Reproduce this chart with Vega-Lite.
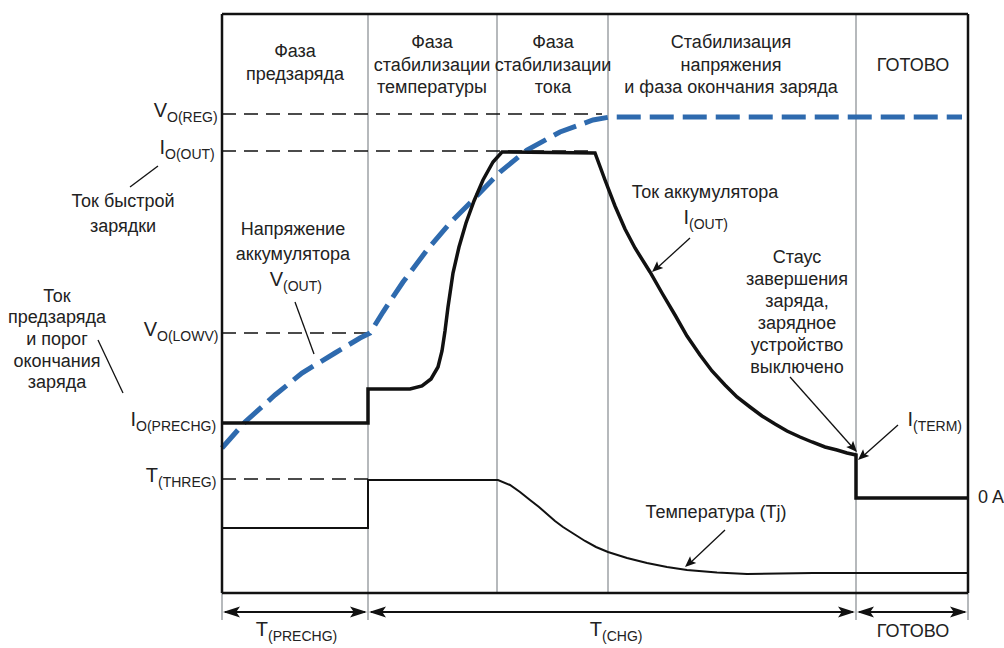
{
  "$schema": "https://vega.github.io/schema/vega-lite/v6.json",
  "width": 1004,
  "height": 648,
  "padding": 0,
  "autosize": {"type": "none"},
  "background": "white",
  "config": {"view": {"stroke": null}, "text": {"font": "Liberation Sans, Arial, sans-serif", "color": "#222"}},
  "datasets": {
    "grid": [
      {"t": 14.6, "v": -2.7, "t2": 14.6, "v2": 57.9},
      {"t": 27.5, "v": 0, "t2": 27.5, "v2": 57.9},
      {"t": 38.6, "v": 0, "t2": 38.6, "v2": 57.9},
      {"t": 63.4, "v": -2.7, "t2": 63.4, "v2": 57.9},
      {"t": 0, "v": -2.7, "t2": 0, "v2": 0},
      {"t": 74.6, "v": -2.7, "t2": 74.6, "v2": 0}
    ],
    "ref": [
      {"t": 0, "v": 47.9, "t2": 38.0, "v2": 47.9},
      {"t": 0, "v": 44.2, "t2": 37.2, "v2": 44.2},
      {"t": 0, "v": 26.0, "t2": 14.6, "v2": 26.0},
      {"t": 0, "v": 11.4, "t2": 14.6, "v2": 11.4}
    ],
    "frame": [
      {"t": 0, "v": 0, "t2": 0, "v2": 57.9},
      {"t": 0, "v": 57.9, "t2": 74.6, "v2": 57.9},
      {"t": 74.6, "v": 0, "t2": 74.6, "v2": 57.9},
      {"t": 0, "v": 0, "t2": 74.6, "v2": 0}
    ],
    "pointers": [
      {"t": -9.2, "v": 40.6, "t2": -6.4, "v2": 42.7},
      {"t": -12.4, "v": 25.3, "t2": -9.9, "v2": 20.0},
      {"t": 7.3, "v": 29.1, "t2": 9.2, "v2": 23.9},
      {"t": 46.8, "v": 35.5, "t2": 43.4, "v2": 32.4},
      {"t": 56.8, "v": 21.6, "t2": 63.2, "v2": 14.4},
      {"t": 67.6, "v": 16.8, "t2": 64.0, "v2": 13.6},
      {"t": 50.3, "v": 6.3, "t2": 46.7, "v2": 2.9}
    ],
    "dims": [
      {"t": 0.3, "v": -1.9, "t2": 14.3, "v2": -1.9},
      {"t": 14.9, "v": -1.9, "t2": 63.1, "v2": -1.9},
      {"t": 63.7, "v": -1.9, "t2": 74.3, "v2": -1.9}
    ],
    "headsRight": [
      {"t": 14.5, "v": -1.9},
      {"t": 63.3, "v": -1.9},
      {"t": 74.5, "v": -1.9}
    ],
    "headsLeft": [
      {"t": 0.1, "v": -1.9},
      {"t": 14.7, "v": -1.9},
      {"t": 63.5, "v": -1.9}
    ],
    "headsDownLeft": [
      {"t": 43.0, "v": 32.1},
      {"t": 63.6, "v": 13.3},
      {"t": 46.3, "v": 2.6}
    ],
    "headsDownRight": [
      {"t": 63.5, "v": 14.1}
    ],
    "voltage": [
      {"t": 0, "v": 14.5}, {"t": 2.3, "v": 17.1}, {"t": 5.3, "v": 19.8}, {"t": 8.0, "v": 22.0},
      {"t": 11.3, "v": 24.0}, {"t": 13.8, "v": 25.5}, {"t": 14.8, "v": 26.0}, {"t": 16.1, "v": 28.1},
      {"t": 18.1, "v": 31.1}, {"t": 20.5, "v": 34.3}, {"t": 22.8, "v": 37.0}, {"t": 24.8, "v": 39.0},
      {"t": 27.8, "v": 42.1}, {"t": 30.5, "v": 44.3}, {"t": 33.8, "v": 46.1}, {"t": 37.1, "v": 47.3},
      {"t": 38.8, "v": 47.6}, {"t": 74.0, "v": 47.6}
    ],
    "current": [
      {"t": 0, "v": 17.0}, {"t": 14.6, "v": 17.0}, {"t": 14.6, "v": 20.4}, {"t": 18.8, "v": 20.4},
      {"t": 20.0, "v": 20.7}, {"t": 20.9, "v": 21.4}, {"t": 21.6, "v": 22.6}, {"t": 22.0, "v": 24.2},
      {"t": 22.3, "v": 26.2}, {"t": 22.6, "v": 28.6}, {"t": 23.1, "v": 32.0}, {"t": 23.7, "v": 34.6},
      {"t": 24.4, "v": 37.0}, {"t": 25.2, "v": 39.2}, {"t": 26.1, "v": 41.3}, {"t": 27.1, "v": 43.1},
      {"t": 28.0, "v": 44.1}, {"t": 37.3, "v": 44.0}, {"t": 38.3, "v": 41.3}, {"t": 39.3, "v": 38.7},
      {"t": 40.3, "v": 36.4}, {"t": 41.3, "v": 34.5}, {"t": 42.8, "v": 32.1}, {"t": 44.0, "v": 30.0},
      {"t": 45.3, "v": 27.8}, {"t": 46.5, "v": 25.7}, {"t": 47.8, "v": 23.8}, {"t": 49.0, "v": 22.2},
      {"t": 50.3, "v": 20.8}, {"t": 51.5, "v": 19.6}, {"t": 52.8, "v": 18.6}, {"t": 54.0, "v": 17.7},
      {"t": 55.3, "v": 16.9}, {"t": 56.5, "v": 16.2}, {"t": 57.8, "v": 15.6}, {"t": 59.0, "v": 15.1},
      {"t": 60.3, "v": 14.6}, {"t": 61.5, "v": 14.3}, {"t": 62.5, "v": 14.0}, {"t": 63.4, "v": 13.8},
      {"t": 63.4, "v": 9.5}, {"t": 74.6, "v": 9.5}
    ],
    "temperature": [
      {"t": 0, "v": 6.5}, {"t": 14.6, "v": 6.5}, {"t": 14.6, "v": 11.3}, {"t": 27.6, "v": 11.3},
      {"t": 28.8, "v": 10.8}, {"t": 29.8, "v": 10.1}, {"t": 30.8, "v": 9.3}, {"t": 31.7, "v": 8.6},
      {"t": 32.5, "v": 7.9}, {"t": 33.3, "v": 7.2}, {"t": 34.1, "v": 6.6}, {"t": 35.2, "v": 5.9},
      {"t": 36.3, "v": 5.2}, {"t": 37.4, "v": 4.6}, {"t": 38.6, "v": 4.1}, {"t": 40.5, "v": 3.5},
      {"t": 42.5, "v": 3.0}, {"t": 44.5, "v": 2.6}, {"t": 46.5, "v": 2.3}, {"t": 49.5, "v": 2.05},
      {"t": 52.5, "v": 1.9}, {"t": 59.1, "v": 2.0}, {"t": 74.6, "v": 2.0}
    ],
    "ctext": [
      {"t": 7.3, "v": 54.1, "s": "Фаза"},
      {"t": 7.3, "v": 51.8, "s": "предзаряда"},
      {"t": 21.0, "v": 55.0, "s": "Фаза"},
      {"t": 21.0, "v": 52.7, "s": "стабилизации"},
      {"t": 21.0, "v": 50.5, "s": "температуры"},
      {"t": 33.1, "v": 55.0, "s": "Фаза"},
      {"t": 33.1, "v": 52.7, "s": "стабилизации"},
      {"t": 33.1, "v": 50.5, "s": "тока"},
      {"t": 50.9, "v": 55.0, "s": "Стабилизация"},
      {"t": 50.9, "v": 52.7, "s": "напряжения"},
      {"t": 50.9, "v": 50.5, "s": "и фаза окончания заряда"},
      {"t": 69.1, "v": 52.7, "s": "ГОТОВО"},
      {"t": -9.9, "v": 39.1, "s": "Ток быстрой"},
      {"t": -9.9, "v": 36.6, "s": "зарядки"},
      {"t": -16.5, "v": 29.6, "s": "Ток"},
      {"t": -16.5, "v": 27.5, "s": "предзаряда"},
      {"t": -16.5, "v": 25.3, "s": "и порог"},
      {"t": -16.5, "v": 23.1, "s": "окончания"},
      {"t": -16.5, "v": 21.0, "s": "заряда"},
      {"t": 7.1, "v": 36.3, "s": "Напряжение"},
      {"t": 7.1, "v": 33.8, "s": "аккумулятора"},
      {"t": 48.3, "v": 40.0, "s": "Ток аккумулятора"},
      {"t": 57.5, "v": 33.5, "s": "Стаус"},
      {"t": 57.5, "v": 31.3, "s": "завершения"},
      {"t": 57.5, "v": 29.1, "s": "заряда,"},
      {"t": 57.5, "v": 26.9, "s": "зарядное"},
      {"t": 57.5, "v": 24.7, "s": "устройство"},
      {"t": 57.5, "v": 22.5, "s": "выключено"},
      {"t": 49.4, "v": 8.0, "s": "Температура (Tj)"},
      {"t": 69.1, "v": -3.9, "s": "ГОТОВО"}
    ],
    "ltext": [
      {"t": 75.6, "v": 9.5, "s": "0 A"}
    ],
    "labels": [
      {"t": -5.5, "v": 47.9, "main": "V", "sub": "O(REG)"},
      {"t": -5.7, "v": 44.2, "main": "I", "sub": "O(OUT)"},
      {"t": -6.5, "v": 26.0, "main": "V", "sub": "O(LOWV)"},
      {"t": -8.6, "v": 17.0, "main": "I", "sub": "O(PRECHG)"},
      {"t": -6.4, "v": 11.4, "main": "T", "sub": "(THREG)"},
      {"t": 6.1, "v": 31.0, "main": "V", "sub": "(OUT)"},
      {"t": 46.7, "v": 37.2, "main": "I", "sub": "(OUT)"},
      {"t": 69.1, "v": 17.0, "main": "I", "sub": "(TERM)"},
      {"t": 4.6, "v": -4.0, "main": "T", "sub": "(PRECHG)"},
      {"t": 38.0, "v": -4.0, "main": "T", "sub": "(CHG)"}
    ]
  },
  "encoding": {
    "x": {"field": "t", "type": "quantitative", "axis": null, "scale": {"domain": [-22.2, 78.2], "nice": false, "zero": false}},
    "y": {"field": "v", "type": "quantitative", "axis": null, "scale": {"domain": [-5.5, 59.3], "nice": false, "zero": false}}
  },
  "layer": [
    {"data": {"name": "grid"}, "mark": {"type": "rule", "color": "#9ea2a6", "strokeWidth": 1.5},
     "encoding": {"x2": {"field": "t2"}, "y2": {"field": "v2"}}},
    {"data": {"name": "ref"}, "mark": {"type": "rule", "color": "#111", "strokeWidth": 1.6, "strokeDash": [14, 8]},
     "encoding": {"x2": {"field": "t2"}, "y2": {"field": "v2"}}},
    {"data": {"name": "temperature"}, "mark": {"type": "line", "color": "#111", "strokeWidth": 2},
     "encoding": {"order": {"value": null}}},
    {"data": {"name": "voltage"}, "mark": {"type": "line", "color": "#2E6AAE", "strokeWidth": 5, "strokeDash": [24, 9]},
     "encoding": {"order": {"value": null}}},
    {"data": {"name": "current"}, "mark": {"type": "line", "color": "#111", "strokeWidth": 3.5, "strokeJoin": "miter"},
     "encoding": {"order": {"value": null}}},
    {"data": {"name": "frame"}, "mark": {"type": "rule", "color": "#111", "strokeWidth": 2.5},
     "encoding": {"x2": {"field": "t2"}, "y2": {"field": "v2"}}},
    {"data": {"name": "pointers"}, "mark": {"type": "rule", "color": "#111", "strokeWidth": 1.3},
     "encoding": {"x2": {"field": "t2"}, "y2": {"field": "v2"}}},
    {"data": {"name": "dims"}, "mark": {"type": "rule", "color": "#111", "strokeWidth": 2.2},
     "encoding": {"x2": {"field": "t2"}, "y2": {"field": "v2"}}},
    {"data": {"name": "headsRight"}, "mark": {"type": "point", "shape": "M0,0L-1,-0.33L-0.78,0L-1,0.33Z", "filled": true, "color": "#111", "opacity": 1, "strokeWidth": 0, "size": 1156, "angle": 0}},
    {"data": {"name": "headsLeft"}, "mark": {"type": "point", "shape": "M0,0L-1,-0.33L-0.78,0L-1,0.33Z", "filled": true, "color": "#111", "opacity": 1, "strokeWidth": 0, "size": 1156, "angle": 180}},
    {"data": {"name": "headsDownLeft"}, "mark": {"type": "point", "shape": "M0,0L-1,-0.42L-0.8,0L-1,0.42Z", "filled": true, "color": "#111", "opacity": 1, "strokeWidth": 0, "size": 484, "angle": 138}},
    {"data": {"name": "headsDownRight"}, "mark": {"type": "point", "shape": "M0,0L-1,-0.42L-0.8,0L-1,0.42Z", "filled": true, "color": "#111", "opacity": 1, "strokeWidth": 0, "size": 484, "angle": 48}},
    {"data": {"name": "ctext"}, "mark": {"type": "text", "align": "center", "baseline": "middle", "fontSize": 18},
     "encoding": {"text": {"field": "s"}}},
    {"data": {"name": "ltext"}, "mark": {"type": "text", "align": "left", "baseline": "middle", "fontSize": 18},
     "encoding": {"text": {"field": "s"}}},
    {"data": {"name": "labels"}, "mark": {"type": "text", "align": "right", "baseline": "middle", "fontSize": 20, "dy": -3},
     "encoding": {"text": {"field": "main"}}},
    {"data": {"name": "labels"}, "mark": {"type": "text", "align": "left", "baseline": "middle", "fontSize": 14, "dy": 4},
     "encoding": {"text": {"field": "sub"}}}
  ]
}
